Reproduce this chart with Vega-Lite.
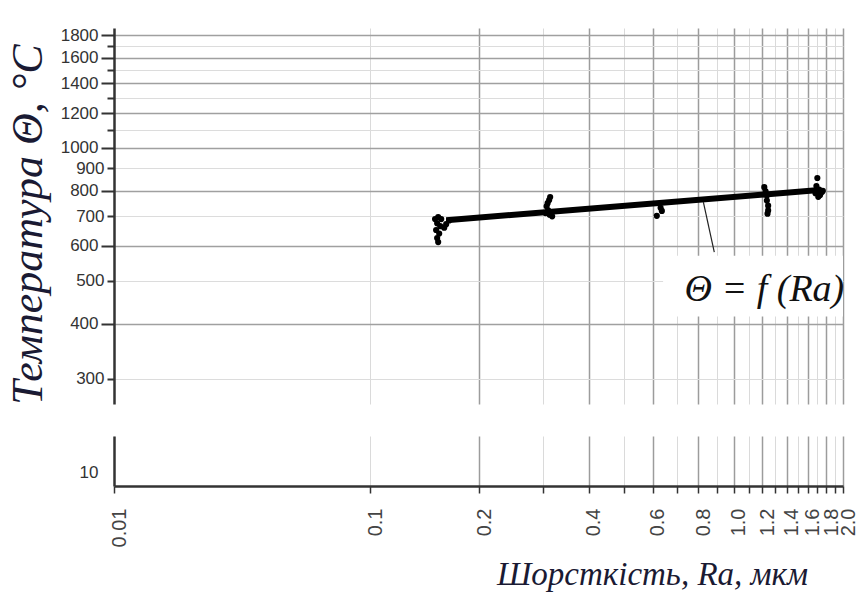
{
  "$schema": "https://vega.github.io/schema/vega-lite/v6.json",
  "background": "white",
  "padding": {"left": 5, "top": 26, "right": 12, "bottom": 5},
  "config": {"view": {"stroke": null}},
  "spacing": 31,
  "datasets": {
    "pts": [
      {"ra": 0.151, "t": 690}, {"ra": 0.154, "t": 697}, {"ra": 0.157, "t": 690}, {"ra": 0.153, "t": 675},
      {"ra": 0.156, "t": 665}, {"ra": 0.152, "t": 652}, {"ra": 0.155, "t": 640}, {"ra": 0.153, "t": 625},
      {"ra": 0.154, "t": 612}, {"ra": 0.162, "t": 672}, {"ra": 0.160, "t": 660}, {"ra": 0.165, "t": 685},
      {"ra": 0.313, "t": 774}, {"ra": 0.311, "t": 762}, {"ra": 0.308, "t": 750}, {"ra": 0.306, "t": 738},
      {"ra": 0.309, "t": 722}, {"ra": 0.312, "t": 706}, {"ra": 0.317, "t": 700}, {"ra": 0.304, "t": 712},
      {"ra": 0.615, "t": 702}, {"ra": 0.635, "t": 720}, {"ra": 0.63, "t": 732},
      {"ra": 1.215, "t": 815}, {"ra": 1.225, "t": 798}, {"ra": 1.235, "t": 780}, {"ra": 1.235, "t": 760},
      {"ra": 1.245, "t": 740}, {"ra": 1.245, "t": 722}, {"ra": 1.24, "t": 710},
      {"ra": 1.70, "t": 855}, {"ra": 1.69, "t": 820}, {"ra": 1.72, "t": 805}, {"ra": 1.75, "t": 795},
      {"ra": 1.68, "t": 790}, {"ra": 1.73, "t": 782}, {"ra": 1.76, "t": 800}, {"ra": 1.71, "t": 775}
    ],
    "fit": [{"ra": 0.162, "t": 686}, {"ra": 1.72, "t": 803}],
    "leader": [{"ra": 0.826, "t": 754, "ra2": 0.885, "t2": 581}],
    "box": [{"ra": 0.64, "ra2": 2.0, "t": 415, "t2": 570}],
    "lab": [{"ra": 1.216, "t": 477, "txt": "Θ = f (Ra)"}],
    "low": [{"ra": 1, "t": 10}]
  },
  "vconcat": [
    {
      "width": 729,
      "height": 376,
      "layer": [
        {
          "data": {"name": "box"},
          "mark": {"type": "rect", "fill": "white"},
          "encoding": {
            "x": {"field": "ra", "type": "quantitative",
              "scale": {"type": "log", "domain": [0.01, 0.1, 2], "range": [0, 256, 729], "nice": false},
              "axis": {"title": null, "labels": false, "ticks": false, "domain": false, "grid": true,
                "values": [0.1, 0.2, 0.3, 0.4, 0.5, 0.6, 0.7, 0.8, 0.9, 1, 1.1, 1.2, 1.3, 1.4, 1.5, 1.6, 1.7, 1.8, 1.9, 2],
                "gridColor": {"condition": {"test": "indexof([0.2,0.4,0.6,0.8,1,1.2,1.4,1.6,1.8,2], datum.value) >= 0", "value": "#9c9c9c"}, "value": "#dadada"},
                "gridWidth": {"condition": {"test": "indexof([0.2,0.4,0.6,0.8,1,1.2,1.4,1.6,1.8,2], datum.value) >= 0", "value": 1.5}, "value": 1}}},
            "x2": {"field": "ra2"},
            "y": {"field": "t", "type": "quantitative",
              "scale": {"type": "log", "domain": [263, 1870], "nice": false},
              "axis": {
                "title": "Температура Θ, °C",
                "values": [300, 400, 500, 600, 700, 800, 900, 1000, 1100, 1200, 1300, 1400, 1500, 1600, 1700, 1800],
                "labelExpr": "datum.value > 1000 && datum.value % 200 != 0 ? '' : toString(datum.value)",
                "labelFont": "Liberation Sans", "labelFontSize": 17, "labelColor": "#333", "labelPadding": 3,
                "tickSize": {"condition": {"test": "datum.value % 200 == 0", "value": 13}, "value": 7},
                "tickColor": "#333", "tickWidth": 2,
                "domainColor": "#333", "domainWidth": 2.5,
                "grid": true,
                "gridColor": {"condition": {"test": "datum.value % 200 == 0", "value": "#a0a0a0"}, "value": "#dcdcdc"},
                "gridWidth": {"condition": {"test": "datum.value % 200 == 0", "value": 1.5}, "value": 1},
                "titleFont": "Liberation Serif", "titleFontStyle": "italic", "titleFontWeight": "normal",
                "titleFontSize": 44, "titleColor": "#1a1a33",
                "titleX": -86, "titleY": 196, "titleAngle": 270, "titleAlign": "center", "titleBaseline": "middle"
              }},
            "y2": {"field": "t2"}
          }
        },
        {
          "data": {"name": "fit"},
          "mark": {"type": "line", "color": "black", "strokeWidth": 6},
          "encoding": {
            "x": {"field": "ra", "type": "quantitative", "scale": {"type": "log", "domain": [0.01, 0.1, 2], "range": [0, 256, 729], "nice": false}},
            "y": {"field": "t", "type": "quantitative", "scale": {"type": "log", "domain": [263, 1870], "nice": false}}
          }
        },
        {
          "data": {"name": "pts"},
          "mark": {"type": "circle", "color": "black", "opacity": 1, "size": 38},
          "encoding": {
            "x": {"field": "ra", "type": "quantitative", "scale": {"type": "log", "domain": [0.01, 0.1, 2], "range": [0, 256, 729], "nice": false}},
            "y": {"field": "t", "type": "quantitative", "scale": {"type": "log", "domain": [263, 1870], "nice": false}}
          }
        },
        {
          "data": {"name": "leader"},
          "mark": {"type": "rule", "color": "#222", "strokeWidth": 1.2},
          "encoding": {
            "x": {"field": "ra", "type": "quantitative", "scale": {"type": "log", "domain": [0.01, 0.1, 2], "range": [0, 256, 729], "nice": false}},
            "x2": {"field": "ra2"},
            "y": {"field": "t", "type": "quantitative", "scale": {"type": "log", "domain": [263, 1870], "nice": false}},
            "y2": {"field": "t2"}
          }
        },
        {
          "data": {"name": "lab"},
          "mark": {"type": "text", "font": "Liberation Serif", "fontStyle": "italic", "fontSize": 38, "color": "#111", "align": "center", "baseline": "middle"},
          "encoding": {
            "x": {"field": "ra", "type": "quantitative", "scale": {"type": "log", "domain": [0.01, 0.1, 2], "range": [0, 256, 729], "nice": false}},
            "y": {"field": "t", "type": "quantitative", "scale": {"type": "log", "domain": [263, 1870], "nice": false}},
            "text": {"field": "txt"}
          }
        }
      ]
    },
    {
      "width": 729,
      "height": 50,
      "data": {"name": "low"},
      "mark": {"type": "point", "opacity": 0},
      "encoding": {
        "x": {"field": "ra", "type": "quantitative",
          "scale": {"type": "log", "domain": [0.01, 0.1, 2], "range": [0, 256, 729], "nice": false},
          "axis": {
            "title": "Шорсткість, Ra, мкм",
            "values": [0.01, 0.1, 0.2, 0.3, 0.4, 0.5, 0.6, 0.7, 0.8, 0.9, 1, 1.1, 1.2, 1.3, 1.4, 1.5, 1.6, 1.7, 1.8, 1.9, 2],
            "labelExpr": "indexof([0.01,0.1,0.2,0.4,0.6,0.8,1,1.2,1.4,1.6,1.8,2], datum.value) >= 0 ? (datum.value < 0.1 ? '0.01' : format(datum.value, '.1f')) : ''",
            "labelAngle": 270, "labelOverlap": false,
            "labelFont": "Liberation Sans", "labelFontSize": 20, "labelColor": "#444", "labelPadding": 15, "labelOffset": 5,
            "tickSize": 7, "tickColor": "#333", "tickWidth": 1.5,
            "domainColor": "#333", "domainWidth": 2.5,
            "grid": true,
            "gridColor": {"condition": {"test": "indexof([0.2,0.4,0.6,0.8,1,1.2,1.4,1.6,1.8,2], datum.value) >= 0", "value": "#9c9c9c"}, "value": "#dadada"},
            "gridWidth": {"condition": {"test": "indexof([0.2,0.4,0.6,0.8,1,1.2,1.4,1.6,1.8,2], datum.value) >= 0", "value": 1.5}, "value": 1},
            "titleFont": "Liberation Serif", "titleFontStyle": "italic", "titleFontWeight": "normal",
            "titleFontSize": 33, "titleColor": "#1a1a33",
            "titleX": 538, "titleY": 98, "titleAlign": "center", "titleBaseline": "alphabetic"
          }},
        "y": {"field": "t", "type": "quantitative",
          "scale": {"type": "log", "domain": [9.35, 12.1], "nice": false},
          "axis": {"title": null, "values": [10], "ticks": false, "grid": false, "labelPadding": 16,
            "labelFont": "Liberation Sans", "labelFontSize": 17, "labelColor": "#333",
            "domainColor": "#333", "domainWidth": 2.5}}
      }
    }
  ]
}
